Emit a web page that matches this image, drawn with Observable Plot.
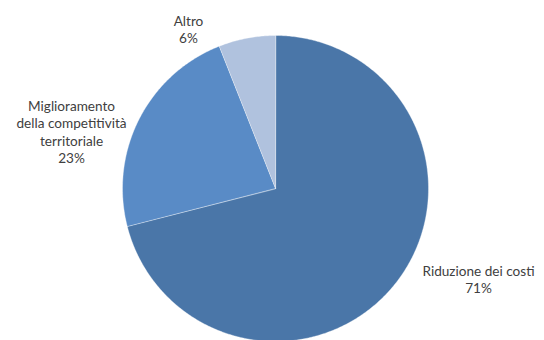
<!DOCTYPE html>
<html><head><meta charset="utf-8">
<script src="https://cdn.jsdelivr.net/npm/d3@7"></script>
<script src="https://cdn.jsdelivr.net/npm/@observablehq/plot@0.6"></script>
<style>body{margin:0;background:#fff}</style>
</head><body><div id="chart"></div>
<script>
// ---- data ----
const categories = ["Riduzione dei costi", "Miglioramento della competitività territoriale", "Altro"];
const labelText = ["Riduzione dei costi\n71%", "Miglioramento\ndella competitività\nterritoriale\n23%", "Altro\n6%"];
const values = [71, 23, 6];

// ---- styles / layout ----
const colors = ["#4a76a8", "#598bc6", "#b0c2de"];
// label block centres, in units of the pie radius relative to the pie centre (y up)
const labelPos = [[1.327, -0.592], [-1.333, 0.373], [-0.569, 1.044]];

const arcs = d3.pie().sort(null).startAngle(0).endAngle(2 * Math.PI)(values);

function slicePoints(a) {
  const pts = [[0, 0]];
  const n = Math.max(2, Math.ceil((a.endAngle - a.startAngle) / 0.01));
  for (let i = 0; i <= n; i++) {
    const t = a.startAngle + (a.endAngle - a.startAngle) * i / n;
    pts.push([Math.sin(t), Math.cos(t)]);
  }
  return pts;
}

const sliceMarks = arcs.map((a, i) =>
  Plot.line(slicePoints(a), {
    x: d => d[0], y: d => d[1], curve: "linear-closed",
    fill: colors[i], stroke: "white", strokeWidth: 0.6, strokeOpacity: 0.6
  })
);

const labels = categories.map((c, i) => ({c, i}));

const chart = Plot.plot({
  width: 544, height: 340,
  margin: 0,
  x: {domain: [-1, 1], range: [122, 428], axis: null},
  y: {domain: [-1, 1], range: [341, 35], axis: null},
  style: {fontFamily: "Lato, 'Open Sans', sans-serif", fontSize: "13.5px", background: "white"},
  marks: [
    ...sliceMarks,
    Plot.text(labels, {
      x: d => labelPos[d.i][0], y: d => labelPos[d.i][1],
      text: d => labelText[d.i],
      fill: "#404040", fontSize: 13.6, lineHeight: 1.28, textAnchor: "middle", lineAnchor: "middle"
    })
  ]
});
document.getElementById("chart").append(chart);
</script>
</body></html>
